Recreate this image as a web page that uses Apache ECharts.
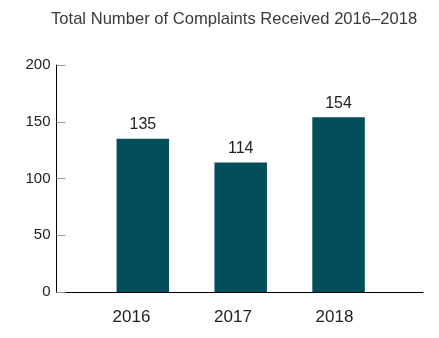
<!DOCTYPE html>
<html>
<head>
<meta charset="utf-8">
<script src="https://cdn.jsdelivr.net/npm/echarts@6/dist/echarts.min.js"></script>
<style>html,body{margin:0;padding:0;background:#fff;}#c{width:439px;height:338px;}</style>
</head>
<body>
<div id="c"></div>
<script>
const titleText = 'Total Number of Complaints Received 2016\u20132018';
const years = ['2016', '2017', '2018'];
const complaints = [135, 114, 154];
const yTicks = [0, 50, 100, 150, 200];

const FONT = '"Liberation Sans", Arial, sans-serif';
const chart = echarts.init(document.getElementById('c'), null, {renderer: 'canvas'});
const gTop = 65, gBottom = 46;
chart.setOption({
  animation: false,
  backgroundColor: '#fff',
  title: {
    text: titleText, left: 51, top: 11, padding: 0,
    textStyle: {fontFamily: FONT, fontSize: 16.6, fontWeight: 'normal', color: '#3a3a3a'}
  },
  grid: [
    {left: 56.5, right: 16, top: gTop, bottom: gBottom},
    {left: 93.9, right: 51.5, top: gTop, bottom: gBottom},
    {left: 80.75, right: 53.75, top: gTop, bottom: gBottom}
  ],
  xAxis: [
    {gridIndex: 0, type: 'category', data: [''], boundaryGap: true,
     axisLine: {lineStyle: {color: '#000', width: 1}},
     axisTick: {inside: true, length: 6, lineStyle: {color: '#999'}},
     axisLabel: {show: false}},
    {gridIndex: 1, type: 'category', data: years,
     axisLine: {show: false}, axisTick: {show: false}, axisLabel: {show: false}},
    {gridIndex: 2, type: 'category', data: years,
     axisLine: {show: false}, axisTick: {show: false},
     axisLabel: {margin: 17, fontFamily: FONT, fontSize: 17, color: '#222'}}
  ],
  yAxis: [
    {gridIndex: 0, type: 'value', min: yTicks[0], max: yTicks[yTicks.length - 1], interval: 50,
     axisLine: {show: true, lineStyle: {color: '#000', width: 1}},
     axisTick: {show: true, inside: true, length: 9, lineStyle: {color: '#999'}},
     splitLine: {show: false},
     axisLabel: {margin: 6, fontFamily: FONT, fontSize: 15, color: '#222'}},
    {gridIndex: 1, type: 'value', min: 0, max: 200, show: false},
    {gridIndex: 2, type: 'value', min: 0, max: 200, show: false}
  ],
  series: [{
    type: 'bar', xAxisIndex: 1, yAxisIndex: 1,
    data: complaints, barWidth: 52.5,
    itemStyle: {color: '#034E5B'},
    label: {show: true, position: 'top', distance: 6, fontFamily: FONT, fontSize: 16, color: '#222'}
  }]
});
</script>
</body>
</html>
